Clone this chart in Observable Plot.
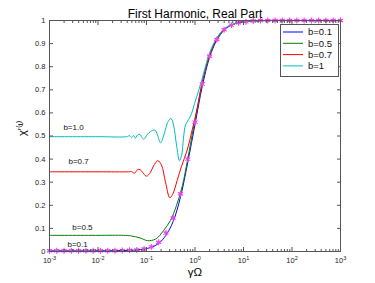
<!DOCTYPE html>
<html><head><meta charset="utf-8">
<script src="https://cdn.jsdelivr.net/npm/d3@7"></script>
<script src="https://cdn.jsdelivr.net/npm/@observablehq/plot@0.6"></script>
<style>
body{margin:0;background:#fff;}
#chart{position:relative;width:375px;height:283px;}
svg{font-family:"Liberation Sans",Arial,sans-serif;}
</style>
</head><body><div id="chart"></div>
<script>
const title = "First Harmonic, Real Part";
const xLabel = "γΩ";
const yLabel = "χ′⁽¹⁾";
const series = ["b=0.1", "b=0.5", "b=0.7", "b=1"];
const colors = ["#0000ff", "#008000", "#ff0000", "#00bfbf"];
const xTickValues = [1e-3, 1e-2, 1e-1, 1e0, 1e1, 1e2, 1e3];
const yTickValues = [0, 0.1, 0.2, 0.3, 0.4, 0.5, 0.6, 0.7, 0.8, 0.9, 1];

// log10(γΩ) and χ' readings per curve
const b01LogX = [-3, -2, -1.5, -1.2, -1.05, -0.9, -0.75, -0.6, -0.45, -0.3, -0.15, 0, 0.15, 0.3, 0.45, 0.6, 0.75, 0.9, 1.05, 1.2, 1.5, 2, 3];
const b01Y    = [0.003, 0.003, 0.004, 0.007, 0.011, 0.018, 0.035, 0.07, 0.13, 0.235, 0.385, 0.55, 0.715, 0.84, 0.915, 0.958, 0.98, 0.99, 0.995, 0.998, 1, 1, 1];

const b05LogX = [-3, -2, -1.47, -1.33, -1.12, -0.98, -0.81, -0.65, -0.505, -0.38, -0.26, -0.155, -0.01, 0.15, 0.3, 0.45, 0.6, 0.75, 0.9, 1.05, 1.2, 1.5, 2, 3];
const b05Y    = [0.07, 0.07, 0.07, 0.068, 0.058, 0.047, 0.054, 0.09, 0.135, 0.2, 0.285, 0.395, 0.56, 0.73, 0.85, 0.92, 0.962, 0.981, 0.991, 0.996, 0.998, 1, 1, 1];

const b07LogX = [-3, -2, -1.371, -1.309, -1.247, -1.186, -1.134, -1.082, -1.0, -0.918, -0.856, -0.767, -0.691, -0.608, -0.52, -0.464, -0.367, -0.278, -0.161, -0.058, 0.045, 0.15, 0.3, 0.45, 0.6, 0.75, 0.9, 1.05, 1.2, 1.5, 2, 3];
const b07Y    = [0.345, 0.345, 0.345, 0.346, 0.339, 0.354, 0.355, 0.343, 0.326, 0.343, 0.37, 0.393, 0.374, 0.3, 0.233, 0.246, 0.308, 0.369, 0.439, 0.526, 0.617, 0.735, 0.85, 0.921, 0.962, 0.981, 0.991, 0.996, 0.998, 1, 1, 1];

const b10LogX = [-3, -2, -1.412, -1.351, -1.309, -1.268, -1.227, -1.186, -1.134, -1.103, -1.056, -0.979, -0.918, -0.829, -0.773, -0.711, -0.629, -0.567, -0.495, -0.443, -0.381, -0.32, -0.278, -0.237, -0.196, -0.134, -0.072, -0.01, 0.08, 0.15, 0.3, 0.45, 0.6, 0.75, 0.9, 1.05, 1.2, 1.5, 2, 3];
const b10Y    = [0.497, 0.497, 0.497, 0.501, 0.493, 0.502, 0.491, 0.504, 0.507, 0.496, 0.486, 0.508, 0.519, 0.526, 0.504, 0.471, 0.513, 0.557, 0.576, 0.548, 0.461, 0.393, 0.415, 0.491, 0.548, 0.57, 0.596, 0.64, 0.7, 0.75, 0.86, 0.925, 0.963, 0.982, 0.991, 0.996, 0.998, 1, 1, 1];

// marker series (magenta stars)
const markLogX = [-3, -2.85, -2.7, -2.55, -2.4, -2.25, -2.1, -1.95, -1.8, -1.65, -1.5, -1.35, -1.2, -1.05, -0.9, -0.75, -0.6, -0.45, -0.3, -0.15, 0, 0.15, 0.3, 0.45, 0.6, 0.75, 0.9, 1.05, 1.2, 1.35, 1.5, 1.65, 1.8, 1.95, 2.1, 2.25, 2.4, 2.55, 2.7, 2.85, 3];
const markY    = [0.003, 0.003, 0.003, 0.003, 0.003, 0.003, 0.003, 0.003, 0.003, 0.003, 0.004, 0.005, 0.007, 0.011, 0.02, 0.04, 0.08, 0.145, 0.25, 0.4, 0.56, 0.725, 0.845, 0.918, 0.96, 0.98, 0.99, 0.995, 0.998, 1, 1, 1, 1, 1, 1, 1, 1, 1, 1, 1, 1];

// in-plot annotations
const annText = ["b=1.0", "b=0.7", "b=0.5", "b=0.1"];
const annX = [0.00313, 0.00398, 0.00478, 0.0038];
const annY = [0.539, 0.391, 0.104, 0.03];

const curves = [[b01LogX, b01Y], [b05LogX, b05Y], [b07LogX, b07Y], [b10LogX, b10Y]];
const lineData = curves.map(([lx, ys], i) => lx.map((v, j) => ({x: 10 ** v, y: ys[j], s: series[i]})));
const markData = markLogX.map((v, j) => ({x: 10 ** v, y: markY[j]}));
const annData = annText.map((t, i) => ({t, x: annX[i], y: annY[i]}));

const xMinor = [];
for (let e = -3; e < 3; e++) for (let m = 2; m <= 9; m++) xMinor.push(m * 10 ** e);

const blank = () => "";
const plot = Plot.plot({
  width: 375, height: 283,
  marginLeft: 49, marginRight: 35, marginTop: 20, marginBottom: 32,
  style: {fontFamily: '"Liberation Sans", Arial, sans-serif', fontSize: "7.5px", color: "#222", background: "#fff", overflow: "visible"},
  x: {type: "log", domain: [1e-3, 1e3]},
  y: {domain: [0, 1]},
  marks: [
    ...lineData.map((d, i) => Plot.line(d, {x: "x", y: "y", stroke: colors[i], strokeWidth: 1, curve: "catmull-rom"})),
    Plot.dot(markData, {x: "x", y: "y", r: 1.7, fill: "#e455e4", stroke: "none"}),
    Plot.dot(markData, {x: "x", y: "y", symbol: "asterisk", r: 2.8, stroke: "#ee44ee", strokeWidth: 1.1}),
    Plot.text(annData, {x: "x", y: "y", text: "t", fontSize: 8, fill: "#111"}),
    Plot.frame({stroke: "#555", strokeWidth: 1}),
    Plot.axisX(xTickValues, {anchor: "bottom", tickSize: 0, tickPadding: 6, tickFormat: d => "10^" + Math.round(Math.log10(d)), label: null}),
    Plot.axisX(xTickValues, {anchor: "bottom", tickSize: 4, dy: -4, tickFormat: blank, label: null, stroke: "#555"}),
    Plot.axisX(xTickValues, {anchor: "top", tickSize: 4, dy: 4, tickFormat: blank, label: null, stroke: "#555"}),
    Plot.axisX(xMinor, {anchor: "bottom", tickSize: 2, dy: -2, tickFormat: blank, label: null, stroke: "#555"}),
    Plot.axisX(xMinor, {anchor: "top", tickSize: 2, dy: 2, tickFormat: blank, label: null, stroke: "#555"}),
    Plot.axisY(yTickValues, {anchor: "left", tickSize: 0, tickPadding: 4, tickFormat: d => String(+d.toFixed(1)), label: null}),
    Plot.axisY(yTickValues, {anchor: "left", tickSize: 4, dx: 4, tickFormat: blank, label: null, stroke: "#555"}),
    Plot.axisY(yTickValues, {anchor: "right", tickSize: 4, dx: -4, tickFormat: blank, label: null, stroke: "#555"}),
    Plot.text([title], {text: d => d, frameAnchor: "top", dy: -11, fontSize: 12, fill: "#000"}),
    Plot.text([xLabel], {text: d => d, frameAnchor: "bottom", dy: 24, fontSize: 11.5, fill: "#000"}),
    Plot.text([yLabel], {text: d => d, frameAnchor: "left", dx: -27, rotate: -90, fontSize: 11, fill: "#000"})
  ]
});
document.getElementById("chart").appendChild(plot);

// superscript exponents on the x tick labels
d3.select(plot).selectAll('g[aria-label="x-axis tick label"] text').each(function () {
  const m = this.textContent.match(/^10\^(-?\d+)$/);
  if (!m) return;
  const sel = d3.select(this);
  sel.text("10");
  sel.append("tspan").attr("dy", "-0.5em").attr("font-size", "5.5px").text(m[1]);
});

// legend box
const lg = d3.select(plot).append("g").attr("font-size", "9.5px");
lg.append("rect").attr("x", 280.5).attr("y", 24.5).attr("width", 58).attr("height", 52)
  .attr("fill", "#fff").attr("stroke", "#555");
series.forEach((s, i) => {
  const yy = 32 + i * 11.3;
  lg.append("line").attr("x1", 283).attr("x2", 303).attr("y1", yy).attr("y2", yy)
    .attr("stroke", colors[i]).attr("stroke-width", 1);
  lg.append("text").attr("x", 308).attr("y", yy).attr("dy", "0.35em").attr("text-anchor", "start").attr("fill", "#111").text(s);
});
</script>
</body></html>
